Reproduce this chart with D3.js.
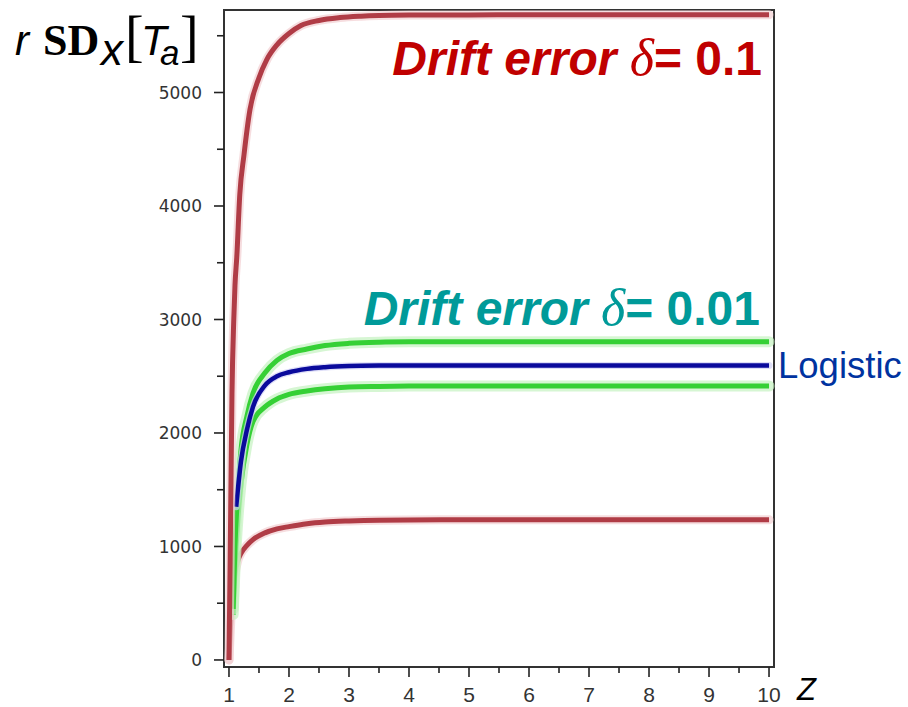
<!DOCTYPE html>
<html><head><meta charset="utf-8">
<script src="https://cdn.jsdelivr.net/npm/d3@7"></script>
<style>html,body{margin:0;padding:0;background:#fff;}svg{display:block;}</style>
</head><body>
<svg id="chart" width="908" height="707"></svg>
<script>
// ---- data ----
const xTicks = [1,2,3,4,5,6,7,8,9,10];
const yTicks = [0,1000,2000,3000,4000,5000];

const redUpperZ = [1,1.02,1.05,1.08,1.1,1.13,1.18,1.25,1.35,1.5,1.63,1.8,2.0,2.2,2.5,2.85,3.2,3.5,4,5,6,7,8,9,10];
const redUpperV = [0,900,2350,3000,3300,3550,4100,4450,4850,5130,5290,5420,5520,5590,5635,5660,5672,5678,5682,5684,5685,5685,5685,5685,5685];

const redLowerZ = [1,1.03,1.06,1.1,1.15,1.2,1.3,1.4,1.6,1.8,2.0,2.3,2.6,3.0,3.5,4,5,6,7,8,9,10];
const redLowerV = [0,350,600,760,880,940,1010,1060,1120,1155,1175,1200,1215,1225,1232,1234,1235,1235,1235,1235,1235,1235];

const greenUpperZ = [1.07,1.1,1.15,1.2,1.3,1.4,1.6,1.8,2.0,2.3,2.6,3.0,3.5,4,5,6,7,8,9,10];
const greenUpperV = [450,1000,1500,1850,2150,2350,2530,2640,2700,2740,2770,2790,2800,2803,2804,2804,2804,2804,2804,2804];

const blueZ = [1.12,1.2,1.3,1.4,1.6,1.8,2.0,2.3,2.6,3.0,3.5,4,5,6,7,8,9,10];
const blueV = [1350,1750,2030,2230,2420,2500,2535,2565,2580,2590,2594,2595,2595,2595,2595,2595,2595,2595];

const greenLowerZ = [1.07,1.1,1.15,1.2,1.3,1.4,1.6,1.8,2.0,2.3,2.6,3.0,3.5,4,5,6,7,8,9,10];
const greenLowerV = [400,800,1250,1550,1900,2100,2230,2300,2340,2370,2390,2405,2410,2413,2414,2414,2414,2414,2414,2414];

const titleRed = "Drift error ";
const titleTeal = "Drift error ";
const labelLogistic = "Logistic";

// ---- scales ----
const svg = d3.select("#chart");
const x = d3.scaleLinear().domain([0.917, 10.083]).range([224, 774]);
const y = d3.scaleLinear().domain([-62, 5727]).range([667, 10]);

// frame
svg.append("rect").attr("x", x.range()[0]).attr("y", y.range()[1])
  .attr("width", x.range()[1]-x.range()[0]).attr("height", y.range()[0]-y.range()[1])
  .attr("fill","none").attr("stroke","#333").attr("stroke-width",2);

// y axis ticks
const yMinor = d3.range(500, 5727, 1000);
svg.append("g").selectAll("line").data(yTicks).join("line")
  .attr("x1", x.range()[0]-10).attr("x2", x.range()[0]).attr("y1", d=>y(d)).attr("y2", d=>y(d))
  .attr("stroke","#222").attr("stroke-width",1.6);
svg.append("g").selectAll("line").data(yMinor).join("line")
  .attr("x1", x.range()[0]-7).attr("x2", x.range()[0]).attr("y1", d=>y(d)).attr("y2", d=>y(d))
  .attr("stroke","#222").attr("stroke-width",1.6);
svg.append("g").selectAll("text").data(yTicks).join("text")
  .attr("x", 202).attr("y", d=>y(d)+6.5).attr("text-anchor","end")
  .attr("font-family","DejaVu Sans").attr("font-size",17).attr("fill","#333")
  .text(d=>d);

// x axis ticks
const xMinor = d3.range(1.5, 10, 1);
svg.append("g").selectAll("line").data(xTicks).join("line")
  .attr("x1", d=>x(d)).attr("x2", d=>x(d)).attr("y1", y.range()[0]).attr("y2", y.range()[0]+10)
  .attr("stroke","#222").attr("stroke-width",1.6);
svg.append("g").selectAll("line").data(xMinor).join("line")
  .attr("x1", d=>x(d)).attr("x2", d=>x(d)).attr("y1", y.range()[0]).attr("y2", y.range()[0]+6)
  .attr("stroke","#222").attr("stroke-width",1.6);
svg.append("g").selectAll("text").data(xTicks).join("text")
  .attr("x", d=>x(d)).attr("y", 702).attr("text-anchor","middle")
  .attr("font-family","Liberation Sans").attr("font-size",21).attr("fill","#333")
  .text(d=>d);

// curves
const line = d3.line().x(d=>x(d[0])).y(d=>y(d[1])).curve(d3.curveMonotoneX);
function series(zs, vs){ return zs.map((z,i)=>[z, vs[i]]); }
function draw(zs, vs, color, w, glow, gw){
  const data = series(zs, vs);
  svg.append("path").attr("d", line(data)).attr("fill","none")
    .attr("stroke", glow).attr("stroke-width", gw).attr("stroke-linecap","round").attr("opacity",0.7);
  svg.append("path").attr("d", line(data)).attr("fill","none")
    .attr("stroke", color).attr("stroke-width", w);
}
draw(redLowerZ, redLowerV, "#b03c46", 5, "#f2cfd2", 9);
draw(greenLowerZ, greenLowerV, "#35d035", 5, "#c4f2c0", 11);
draw(greenUpperZ, greenUpperV, "#35d035", 5, "#c4f2c0", 11);
draw(blueZ, blueV, "#0a0a9c", 4.5, "#d0d0f5", 7);
draw(redUpperZ, redUpperV, "#b03c46", 5, "#f2cfd2", 9);

// titles
function title(txt, val, color, yb, xr){
  const t = svg.append("text").attr("x", xr).attr("y", yb).attr("text-anchor","end")
    .attr("font-family","Liberation Sans").attr("font-size",48).attr("font-weight","bold")
    .attr("fill", color);
  t.append("tspan").attr("font-style","italic").text(txt);
  t.append("tspan").attr("font-family","Liberation Serif").attr("font-style","italic")
    .attr("font-weight","normal").attr("font-size",52).text("\u03B4");
  t.append("tspan").text("= " + val);
}
title(titleRed, "0.1", "#c00000", 75, 762);
title(titleTeal, "0.01", "#009a99", 325, 760);

svg.append("text").attr("x", 778).attr("y", 378)
  .attr("font-family","Liberation Sans").attr("font-size",36.5).attr("fill","#0033a0")
  .text(labelLogistic);

// y-axis label r SD_x[T_a]
const yl = svg.append("text").attr("y", 55).attr("fill","#000");
yl.append("tspan").attr("x",15).attr("font-family","Liberation Sans").attr("font-style","italic").attr("font-size",42).text("r");
yl.append("tspan").attr("x",43).attr("font-family","Liberation Serif").attr("font-weight","bold").attr("font-size",44).text("SD");
yl.append("tspan").attr("x",101).attr("dy",10).attr("font-family","Liberation Sans").attr("font-style","italic").attr("font-size",44).text("x");
yl.append("tspan").attr("x",125).attr("dy",-10).attr("font-family","Liberation Serif").attr("font-size",56).text("[");
yl.append("tspan").attr("x",141).attr("font-family","Liberation Sans").attr("font-style","italic").attr("font-size",42).text("T");
yl.append("tspan").attr("x",160).attr("dy",10).attr("font-family","Liberation Sans").attr("font-style","italic").attr("font-size",35).text("a");
yl.append("tspan").attr("x",180).attr("dy",-10).attr("font-family","Liberation Serif").attr("font-size",56).text("]");

// x-axis label
svg.append("text").attr("x", 797).attr("y", 700)
  .attr("font-family","Liberation Sans").attr("font-style","italic").attr("font-size",31)
  .attr("fill","#000").text("Z");
</script>
</body></html>
